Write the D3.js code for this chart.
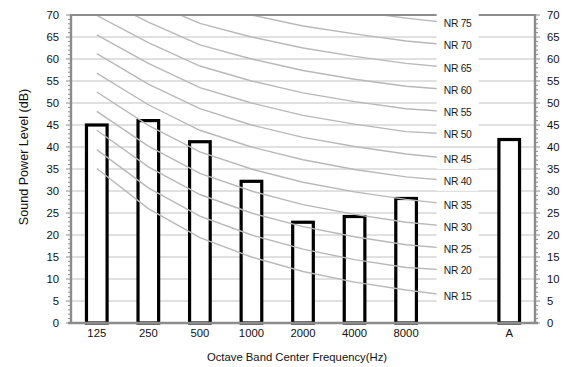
<!DOCTYPE html>
<html><head><meta charset="utf-8">
<script src="https://cdn.jsdelivr.net/npm/d3@7"></script>
<style>html,body{margin:0;padding:0;background:#fff}svg{display:block;font-family:"Liberation Sans",Arial,sans-serif}</style>
</head><body>
<svg id="c" width="564" height="367"></svg>
<script>
// ---- data ----
const categories = ["125","250","500","1000","2000","4000","8000","","A"];
const bandLabels = ["125","250","500","1000","2000","4000","8000"];
const barCats = ["125","250","500","1000","2000","4000","8000","A"];
const barValues = [45.0, 46.0, 41.2, 32.2, 22.9, 24.2, 28.3, 41.7];
const nrNames = ["NR 15","NR 20","NR 25","NR 30","NR 35","NR 40","NR 45","NR 50","NR 55","NR 60","NR 65","NR 70","NR 75"];
// NR curve levels at 125..8000 Hz, then the label point
const nr15 = [35.1, 26.0, 19.4, 15, 11.7, 9.3, 7.5, 6.0];
const nr20 = [39.4, 30.7, 24.3, 20, 16.8, 14.4, 12.6, 11.9];
const nr25 = [43.8, 35.5, 29.2, 25, 21.9, 19.6, 17.8, 16.8];
const nr30 = [48.1, 40.2, 34.0, 30, 26.9, 24.7, 22.9, 21.8];
const nr35 = [52.5, 44.9, 38.9, 35, 32.0, 29.8, 28.1, 26.8];
const nr40 = [56.8, 49.6, 43.8, 40, 37.1, 34.9, 33.2, 32.2];
const nr45 = [61.2, 54.3, 48.7, 45, 42.2, 40.1, 38.4, 37.2];
const nr50 = [65.5, 59.0, 53.5, 50, 47.2, 45.2, 43.5, 42.9];
const nr55 = [69.9, 63.7, 58.4, 55, 52.3, 50.3, 48.7, 47.9];
const nr60 = [74.2, 68.4, 63.2, 60, 57.4, 55.4, 53.8, 52.9];
const nr65 = [78.6, 73.1, 68.1, 65, 62.5, 60.6, 59.0, 57.9];
const nr70 = [82.9, 77.8, 73.0, 70, 67.5, 65.7, 64.1, 63.0];
const nr75 = [87.3, 82.5, 77.9, 75, 72.6, 70.8, 69.3, 68.0];
const nrSeries = [nr15,nr20,nr25,nr30,nr35,nr40,nr45,nr50,nr55,nr60,nr65,nr70,nr75];
const nrCats = ["125","250","500","1000","2000","4000","8000",""];
const yTicks = [0,5,10,15,20,25,30,35,40,45,50,55,60,65,70];
const yMinor = d3.range(0,71,1);

// ---- layout ----
const L = 71, R = 535, T = 15, B = 323;
const svg = d3.select("#c");
const x = d3.scaleBand().domain(categories).range([L,R]).paddingInner(0.6).paddingOuter(0.3);
const y = d3.scaleLinear().domain([0,70]).range([B,T]);
const cx = c => x(c) + x.bandwidth()/2;

svg.append("defs").append("clipPath").attr("id","clip")
  .append("rect").attr("x",L).attr("y",T).attr("width",R-L).attr("height",B-T);

// gridlines
svg.append("g").selectAll("line").data(yTicks.filter(d=>d>0&&d<70)).join("line")
  .attr("x1",L).attr("x2",R).attr("y1",d=>y(d)).attr("y2",d=>y(d))
  .attr("stroke","#c2c2c2").attr("stroke-width",1);

// bars
svg.append("g").selectAll("rect").data(barCats).join("rect")
  .attr("x",c=>x(c)).attr("width",x.bandwidth())
  .attr("y",(c,i)=>y(barValues[i])).attr("height",(c,i)=>B-y(barValues[i]))
  .attr("fill","#fff").attr("stroke","#000").attr("stroke-width",3.2);

// NR lines
const line = d3.line().x((d,i)=>cx(nrCats[i])).y(d=>y(d));
svg.append("g").attr("clip-path","url(#clip)").selectAll("path").data(nrSeries).join("path")
  .attr("d",line).attr("fill","none").attr("stroke","#b8b8b8").attr("stroke-width",1.4);

// top border
svg.append("line").attr("x1",L).attr("x2",R).attr("y1",T).attr("y2",T)
  .attr("stroke","#8c8c8c").attr("stroke-width",2.2);

// NR labels
const lg = svg.append("g");
nrSeries.forEach((s,i)=>{
  const px = cx(""), py = y(s[7]);
  lg.append("rect").attr("x",px-21).attr("y",py-10.5).attr("width",42).attr("height",20).attr("fill","#fff");
  lg.append("text").attr("x",px).attr("y",py).attr("dy","0.35em").attr("text-anchor","middle")
    .attr("font-size",10.3).attr("fill","#1a1a1a").attr("letter-spacing","-0.3").text(nrNames[i]);
});

// axes
const axisColor = "#8c8c8c";
svg.append("g").selectAll("line").data(yMinor).join("line")
  .attr("x1",d=>d%5===0?L-5:L-3).attr("x2",L).attr("y1",d=>y(d)).attr("y2",d=>y(d))
  .attr("stroke",axisColor).attr("stroke-width",1);
svg.append("g").selectAll("line").data(yMinor).join("line")
  .attr("x1",R).attr("x2",d=>d%5===0?R+5:R+3).attr("y1",d=>y(d)).attr("y2",d=>y(d))
  .attr("stroke",axisColor).attr("stroke-width",1);
svg.append("line").attr("x1",L).attr("x2",L).attr("y1",T-1).attr("y2",B+1).attr("stroke",axisColor).attr("stroke-width",2.4);
svg.append("line").attr("x1",R).attr("x2",R).attr("y1",T-1).attr("y2",B+1).attr("stroke",axisColor).attr("stroke-width",2.4);
svg.append("line").attr("x1",L-3).attr("x2",R+3).attr("y1",B).attr("y2",B).attr("stroke",axisColor).attr("stroke-width",2.4);

// y tick labels
const ya = svg.append("g").attr("font-size",11.3).attr("fill","#111");
ya.selectAll("text.l").data(yTicks).join("text").attr("class","l")
  .attr("x",L-12).attr("y",d=>y(d)).attr("dy","0.36em").attr("text-anchor","end").text(d=>d);
ya.selectAll("text.r").data(yTicks).join("text").attr("class","r")
  .attr("x",R+12).attr("y",d=>y(d)).attr("dy","0.36em").attr("text-anchor","start").text(d=>d);

// x tick labels
svg.append("g").attr("font-size",11.3).attr("fill","#111").selectAll("text")
  .data(bandLabels.concat(["A"])).join("text")
  .attr("x",c=>cx(c)).attr("y",337).attr("text-anchor","middle").text(c=>c);

// titles
svg.append("text").attr("x",297).attr("y",361).attr("text-anchor","middle")
  .attr("font-size",11.3).attr("fill","#111").text("Octave Band Center Frequency(Hz)");
svg.append("text").attr("transform","translate(27.5,157) rotate(-90)").attr("text-anchor","middle")
  .attr("font-size",12.6).attr("fill","#111").text("Sound Power Level (dB)");
</script>
</body></html>
